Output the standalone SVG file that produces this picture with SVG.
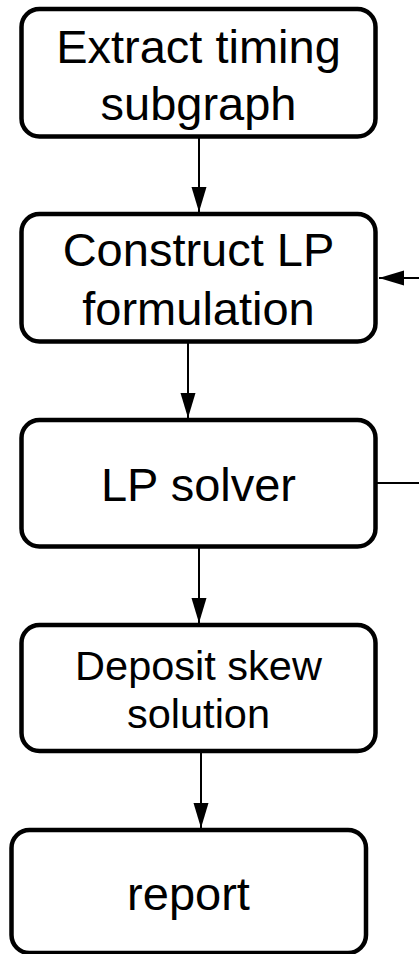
<svg xmlns="http://www.w3.org/2000/svg" width="419" height="954" viewBox="0 0 419 954">
<style>
.box{fill:#fff;stroke:#000;stroke-width:4.5}
.t{font-family:"Liberation Sans",Arial,sans-serif;font-size:47px;fill:#000;text-anchor:middle}
.s{font-size:41.5px}
.c{stroke:#000;stroke-width:2;fill:none}
</style>
<defs>
<marker id="ah" markerUnits="userSpaceOnUse" markerWidth="26" markerHeight="16" refX="25" refY="7.5" orient="auto">
<path d="M0,0 L25,7.5 L0,15 Z" fill="#000"/>
</marker>
</defs>
<g id="connectors">
<line class="c" x1="199" y1="137" x2="199" y2="212" marker-end="url(#ah)"/>
<line class="c" x1="188" y1="342" x2="188" y2="418" marker-end="url(#ah)"/>
<line class="c" x1="199" y1="547" x2="199" y2="623" marker-end="url(#ah)"/>
<line class="c" x1="201" y1="751" x2="201" y2="828" marker-end="url(#ah)"/>
<polyline class="c" points="377,483 425,483 425,278 379,278" marker-end="url(#ah)"/>
</g>
<g id="n1">
<rect class="box" x="21.5" y="9" width="354" height="127.5" rx="18"/>
<text class="t" x="198.5" y="63">Extract timing</text>
<text class="t" x="198.5" y="120">subgraph</text>
</g>
<g id="n2">
<rect class="box" x="21.5" y="214" width="354" height="127.5" rx="18"/>
<text class="t" x="198.5" y="266">Construct LP</text>
<text class="t" x="198.5" y="325">formulation</text>
</g>
<g id="n3">
<rect class="box" x="21.5" y="420" width="354" height="126.5" rx="18"/>
<text class="t" x="198.5" y="501">LP solver</text>
</g>
<g id="n4">
<rect class="box" x="21.5" y="625" width="354" height="126" rx="18"/>
<text class="t s" x="198.5" y="680">Deposit skew</text>
<text class="t s" x="198.5" y="728">solution</text>
</g>
<g id="n5">
<rect class="box" x="11.5" y="830" width="354.5" height="123" rx="18"/>
<text class="t" x="188.5" y="910">report</text>
</g>
</svg>
